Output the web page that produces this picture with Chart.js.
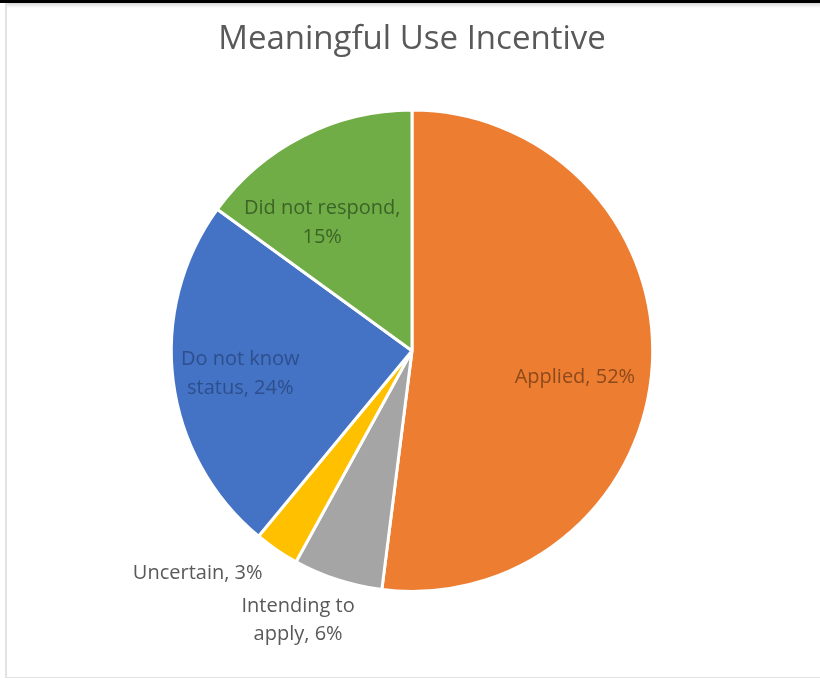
<!DOCTYPE html>
<html>
<head>
<meta charset="utf-8">
<script src="https://cdn.jsdelivr.net/npm/chart.js@4/dist/chart.umd.min.js"></script>
<style>
  html, body { margin: 0; padding: 0; background: #fff; }
  #wrap { position: relative; width: 820px; height: 679px; overflow: hidden; }
  #topbar { position: absolute; left: 0; top: 0; width: 820px; height: 3px; background: #000; }
  #topshade { position: absolute; left: 5px; top: 3px; width: 815px; height: 5px; background: linear-gradient(#d8d8d8, #fff); }
  #leftline { position: absolute; left: 5px; top: 3px; width: 2px; height: 674px; background: #e2e2e2; }
  #bottomline { position: absolute; left: 5px; top: 677px; width: 815px; height: 1px; background: #e2e2e2; }
  #chart { position: absolute; left: 0; top: 0; }
</style>
</head>
<body>
<div id="wrap">
  <div id="topbar"></div>
  <div id="topshade"></div>
  <div id="leftline"></div>
  <div id="bottomline"></div>
  <canvas id="chart" width="820" height="679"></canvas>
</div>
<script>
let categories = ['Applied', 'Intending to\napply', 'Uncertain', 'Do not know\nstatus', 'Did not respond'];
let values = [52, 6, 3, 24, 15];
let valueSep = [' ', ' ', ' ', ' ', '\n'];
let sliceColors = ['#ED7D31', '#A5A5A5', '#FFC000', '#4472C4', '#70AD47'];
let textColors = ['#8c4a1c', '#595959', '#595959', '#2d4f8c', '#3c6427'];

// where each label sits: turn (degrees, clockwise) from the slice middle, distance as part of the radius
let labelPlace = [
  { turn: 5.8, dist: 0.686 },
  { turn: 4.9, dist: 1.216 },
  { turn: 9.7, dist: 1.284 },
  { turn: -0.4, dist: 0.72 },
  { turn: -8.1, dist: 0.649 },
];

let fontFamily = '"Open Sans", "Liberation Sans", sans-serif';

let sliceLabels = {
  id: 'sliceLabels',
  afterDatasetsDraw: (chart) => {
    let ctx = chart.ctx;
    let meta = chart.getDatasetMeta(0);
    ctx.save();
    ctx.font = '20px ' + fontFamily;
    ctx.textAlign = 'center';
    ctx.textBaseline = 'middle';
    meta.data.forEach((arc, i) => {
      let p = arc.getProps(['x', 'y', 'startAngle', 'endAngle', 'outerRadius'], true);
      let mid = (p.startAngle + p.endAngle) / 2 + labelPlace[i].turn * Math.PI / 180;
      let r = p.outerRadius * labelPlace[i].dist;
      let cx = p.x + Math.cos(mid) * r;
      let cy = p.y + Math.sin(mid) * r;
      let lines = (categories[i] + ',' + valueSep[i] + values[i] + '%').split('\n');
      let lineH = 28.5;
      ctx.fillStyle = textColors[i];
      lines.forEach((line, k) => {
        ctx.fillText(line, cx, cy + (k - (lines.length - 1) / 2) * lineH);
      });
    });
    ctx.restore();
  },
};

let chart = new Chart(document.getElementById('chart'), {
  type: 'pie',
  data: {
    labels: categories.map((c) => c.replace('\n', ' ')),
    datasets: [{
      data: values,
      backgroundColor: sliceColors,
      borderColor: '#ffffff',
      borderWidth: 3,
    }],
  },
  options: {
    responsive: false,
    animation: false,
    layout: {
      padding: { left: 20, right: 16, top: 0, bottom: 86 },
    },
    plugins: {
      legend: { display: false },
      tooltip: { enabled: false },
      title: {
        display: true,
        text: 'Meaningful Use Incentive',
        color: '#595959',
        font: { family: fontFamily, size: 33, weight: 'normal', lineHeight: 1.2 },
        padding: { top: 20, bottom: 49 },
      },
    },
  },
  plugins: [sliceLabels],
});
</script>
</body>
</html>
